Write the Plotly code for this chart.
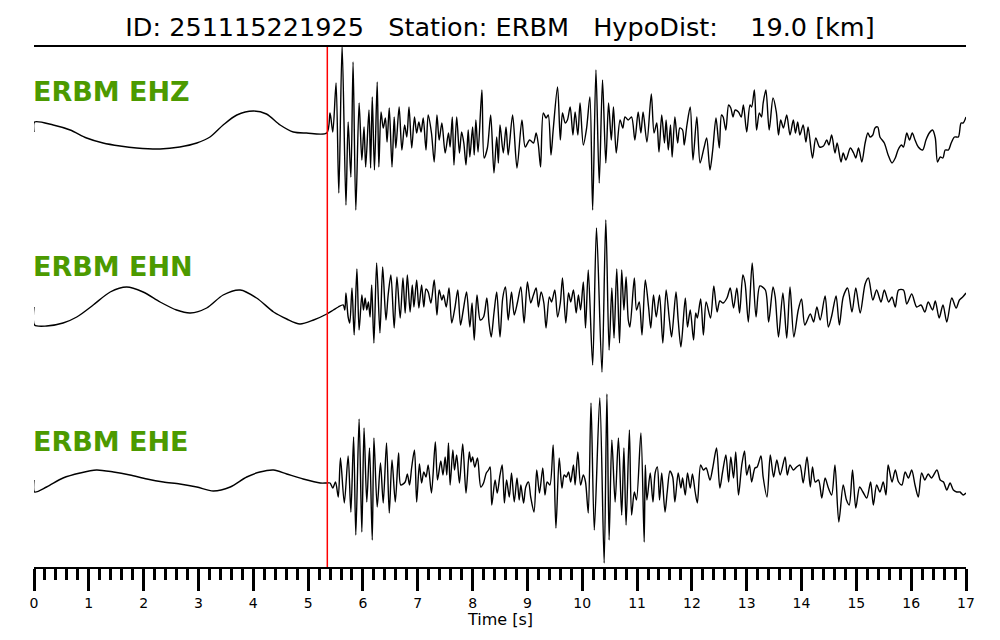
import plotly.graph_objects as go

# ================================ Datos ================================
event_id = "251115221925"
station = "ERBM"
hypo_dist_km = 19.0
p_pick_s = 5.35

channels = ["EHZ", "EHN", "EHE"]

ehz_t = [0.00, 0.01, 0.35, 0.66, 0.96, 1.26, 1.57, 1.87, 2.30, 2.66, 2.97, 3.21, 3.45, 3.70, 4.00, 4.24, 4.49, 4.73, 4.97, 5.34,
         5.40, 5.45, 5.51, 5.56, 5.62, 5.69, 5.73, 5.78, 5.82, 5.87, 5.93, 5.98, 6.02, 6.05, 6.11, 6.14, 6.17, 6.21, 6.26, 6.29,
         6.33, 6.37, 6.41, 6.44, 6.48, 6.53, 6.57, 6.60, 6.66, 6.71, 6.76, 6.80, 6.84, 6.89, 6.94, 6.98, 7.02, 7.06, 7.10, 7.15,
         7.19, 7.25, 7.30, 7.35, 7.39, 7.44, 7.50, 7.56, 7.59, 7.63, 7.66, 7.71, 7.76, 7.80, 7.84, 7.88, 7.92, 7.95, 8.00, 8.03,
         8.06, 8.10, 8.17, 8.21, 8.27, 8.33, 8.39, 8.44, 8.47, 8.50, 8.56, 8.61, 8.65, 8.73, 8.81, 8.90, 8.96, 9.04, 9.11, 9.16,
         9.20, 9.24, 9.29, 9.34, 9.38, 9.43, 9.47, 9.55, 9.60, 9.64, 9.69, 9.73, 9.78, 9.83, 9.87, 9.92, 9.96, 10.02, 10.08, 10.14,
         10.19, 10.25, 10.31, 10.37, 10.43, 10.48, 10.53, 10.57, 10.62, 10.69, 10.74, 10.78, 10.84, 10.90, 10.96, 11.02, 11.07, 11.11, 11.18, 11.26,
         11.31, 11.36, 11.40, 11.45, 11.50, 11.53, 11.57, 11.61, 11.64, 11.69, 11.74, 11.78, 11.83, 11.86, 11.91, 11.97, 12.02, 12.09, 12.15, 12.22,
         12.27, 12.33, 12.38, 12.44, 12.50, 12.54, 12.57, 12.62, 12.67, 12.71, 12.75, 12.79, 12.85, 12.90, 12.94, 13.00, 13.06, 13.09, 13.14, 13.18,
         13.23, 13.27, 13.30, 13.35, 13.41, 13.48, 13.54, 13.58, 13.62, 13.67, 13.73, 13.79, 13.85, 13.89, 13.93, 13.97, 14.03, 14.08, 14.12, 14.20,
         14.26, 14.33, 14.40, 14.46, 14.50, 14.55, 14.61, 14.65, 14.72, 14.76, 14.81, 14.89, 14.95, 14.99, 15.04, 15.10, 15.16, 15.21, 15.25, 15.30,
         15.34, 15.39, 15.43, 15.51, 15.58, 15.65, 15.71, 15.76, 15.82, 15.86, 15.92, 15.97, 16.02, 16.07, 16.13, 16.21, 16.27, 16.33, 16.39, 16.44,
         16.48, 16.53, 16.58, 16.62, 16.68, 16.73, 16.79, 16.86, 16.91, 16.95, 17.00]
ehz_amp = [-2, 8, 5, 0, -8, -13, -16, -18, -19, -17, -13, -7, 5, 15, 19, 16, 5, -2, -3, -3,
           17, -2, 47, -63, 85, -75, 8, -47, 68, -80, 27, -30, 3, -37, 20, -38, 33, -40, 48, -37,
           18, 2, 12, -12, 22, -37, 13, -18, 23, -20, 5, -7, 23, -18, 13, -3, 8, -2, 12, -20,
           15, -3, -32, 15, -10, 7, -23, -3, -17, 13, -35, 13, -23, -2, -13, -35, 0, -27, 3, -25,
           10, -22, 40, -28, -18, 15, -43, -7, -33, 5, -23, 3, -25, 15, -38, 10, -17, -10, -13, -3,
           -15, -37, 17, 12, 15, -25, 0, 43, -10, 17, 7, 10, 23, -5, 18, -5, 27, -15, 2, 33,
           -80, 60, -53, 50, -33, 27, -10, 23, -23, 10, 2, 13, 10, 13, -10, 18, -3, 18, -12, 36,
           -3, 7, -22, 15, -13, 10, -20, 5, -27, 13, -13, 2, 0, -15, 5, 23, -30, 13, -33, -18,
           -8, -40, -20, 12, -18, 15, 13, 0, 25, 22, 13, 20, 18, 13, 25, -2, 25, 23, 40, 0,
           17, 13, 27, 40, 0, 32, 18, -5, 10, 2, 15, -5, 10, -3, 8, -5, 5, -12, 3, -28,
           -8, -17, -16, -10, -15, -5, -23, -13, -32, -23, -30, -18, -23, -28, -18, -32, -13, -3, -7, -5,
           2, 3, -7, -13, -25, -33, -28, -20, -15, -17, -3, -10, -3, -10, -17, -20, -10, -3, 0, -8,
           -32, -27, -28, -20, -20, -13, -7, -7, 7, 7, 13]

ehn_t = [0.00, 0.01, 0.23, 0.53, 0.78, 1.08, 1.39, 1.69, 1.99, 2.30, 2.60, 2.85, 3.15, 3.45, 3.76, 4.06, 4.37, 4.61, 4.85, 5.10,
         5.34, 5.46, 5.55, 5.64, 5.67, 5.69, 5.73, 5.76, 5.80, 5.84, 5.89, 5.93, 5.98, 6.01, 6.04, 6.07, 6.10, 6.13, 6.16, 6.20,
         6.25, 6.31, 6.36, 6.42, 6.46, 6.51, 6.57, 6.62, 6.68, 6.73, 6.77, 6.81, 6.86, 6.90, 6.93, 6.98, 7.02, 7.07, 7.11, 7.15,
         7.19, 7.24, 7.30, 7.35, 7.39, 7.44, 7.47, 7.52, 7.57, 7.62, 7.68, 7.73, 7.78, 7.83, 7.89, 7.95, 7.99, 8.03, 8.08, 8.14,
         8.20, 8.26, 8.30, 8.34, 8.39, 8.44, 8.50, 8.55, 8.60, 8.65, 8.71, 8.76, 8.82, 8.88, 8.94, 9.00, 9.06, 9.11, 9.16, 9.20,
         9.25, 9.30, 9.34, 9.40, 9.44, 9.50, 9.55, 9.60, 9.64, 9.70, 9.75, 9.79, 9.84, 9.89, 9.93, 9.97, 10.02, 10.06, 10.11, 10.19,
         10.26, 10.36, 10.43, 10.49, 10.54, 10.58, 10.63, 10.68, 10.72, 10.76, 10.80, 10.84, 10.87, 10.95, 10.99, 11.04, 11.09, 11.15, 11.21, 11.25,
         11.30, 11.35, 11.41, 11.47, 11.53, 11.59, 11.63, 11.71, 11.75, 11.80, 11.88, 11.92, 11.97, 12.03, 12.07, 12.10, 12.16, 12.21, 12.26, 12.34,
         12.40, 12.46, 12.51, 12.57, 12.64, 12.70, 12.76, 12.82, 12.87, 12.93, 12.97, 13.03, 13.10, 13.17, 13.24, 13.34, 13.40, 13.48, 13.52, 13.58,
         13.66, 13.73, 13.79, 13.86, 13.94, 14.00, 14.06, 14.16, 14.22, 14.28, 14.34, 14.43, 14.49, 14.55, 14.63, 14.69, 14.76, 14.84, 14.92, 14.99,
         15.07, 15.16, 15.22, 15.30, 15.37, 15.45, 15.51, 15.59, 15.65, 15.71, 15.77, 15.86, 15.92, 16.01, 16.10, 16.18, 16.25, 16.31, 16.39, 16.44,
         16.51, 16.58, 16.65, 16.74, 16.82, 16.88, 16.94, 17.00]
ehn_amp = [-2, -20, -21, -18, -12, 0, 13, 18, 13, 3, -5, -8, -3, 10, 15, 7, -7, -14, -19, -15,
           -9, -5, -2, 0, -5, 12, -12, -18, 17, -30, 36, -25, 10, -5, 7, -5, 3, -12, 20, -38,
           42, -28, 38, -15, 10, 30, -23, 28, -13, 27, -8, 30, -7, 20, -2, 25, -3, 20, -2, 16,
           13, 2, 25, -10, 15, 5, 10, -2, 17, -18, -2, 15, -20, -5, 13, -22, 2, -35, 10, -15,
           -12, 7, -18, -32, -8, 13, -32, 7, 18, -15, 13, -10, 3, 18, -18, 23, 2, 10, 17, -2,
           13, 2, -23, 8, 3, 15, -12, 2, 27, -18, 12, 3, 15, -8, 10, -5, 23, -23, 35, -60,
           77, -67, 85, -45, 17, -33, 36, -38, 35, -5, 28, -15, -22, 27, -5, 3, -30, 25, -2, -23,
           10, -12, 10, -38, 15, -15, -32, 13, -15, -42, 7, -22, -5, -35, -8, -13, 6, -30, 3, -13,
           19, -7, 4, 2, 7, 17, -3, 17, -8, 30, 22, -17, 42, -12, 19, 15, -17, 18, 8, -32,
           12, -33, 18, -32, -5, 6, -20, -9, -17, -2, -15, 9, -22, -11, 9, -20, 8, 17, -7, 17,
           -8, 21, 27, 5, 15, 3, 15, 3, 8, -2, 15, 15, 1, 11, -2, 0, -7, 3, -5, 4,
           -13, 0, -17, 7, -3, 5, 8, 12]

ehe_t = [0.00, 0.01, 0.23, 0.53, 0.84, 1.14, 1.45, 1.75, 2.06, 2.36, 2.66, 2.97, 3.27, 3.58, 3.88, 4.12, 4.37, 4.61, 4.91, 5.22,
         5.34, 5.40, 5.45, 5.50, 5.55, 5.59, 5.66, 5.73, 5.78, 5.83, 5.87, 5.93, 5.98, 6.02, 6.07, 6.12, 6.17, 6.20, 6.26, 6.32,
         6.37, 6.43, 6.48, 6.53, 6.59, 6.65, 6.69, 6.77, 6.81, 6.85, 6.89, 6.94, 6.98, 7.03, 7.07, 7.11, 7.15, 7.19, 7.25, 7.32,
         7.36, 7.42, 7.46, 7.50, 7.53, 7.56, 7.59, 7.64, 7.67, 7.71, 7.76, 7.82, 7.88, 7.94, 7.97, 8.00, 8.04, 8.09, 8.15, 8.20,
         8.25, 8.29, 8.32, 8.35, 8.41, 8.45, 8.50, 8.54, 8.58, 8.62, 8.67, 8.71, 8.76, 8.81, 8.85, 8.88, 8.93, 8.97, 9.02, 9.06,
         9.12, 9.17, 9.22, 9.28, 9.32, 9.36, 9.41, 9.47, 9.52, 9.58, 9.63, 9.67, 9.71, 9.75, 9.79, 9.84, 9.87, 9.92, 9.97, 10.02,
         10.06, 10.11, 10.16, 10.22, 10.32, 10.40, 10.45, 10.49, 10.54, 10.60, 10.66, 10.72, 10.76, 10.80, 10.86, 10.90, 10.95, 10.99, 11.07, 11.13,
         11.15, 11.18, 11.24, 11.29, 11.33, 11.37, 11.41, 11.45, 11.51, 11.55, 11.60, 11.65, 11.69, 11.75, 11.80, 11.83, 11.88, 11.92, 11.97, 12.01,
         12.06, 12.10, 12.16, 12.21, 12.26, 12.33, 12.38, 12.45, 12.51, 12.56, 12.62, 12.67, 12.71, 12.76, 12.80, 12.85, 12.91, 12.96, 13.00, 13.05,
         13.09, 13.15, 13.19, 13.26, 13.30, 13.37, 13.43, 13.49, 13.55, 13.61, 13.70, 13.74, 13.79, 13.85, 13.91, 13.97, 14.03, 14.10, 14.16, 14.20,
         14.25, 14.31, 14.37, 14.43, 14.49, 14.55, 14.61, 14.68, 14.76, 14.82, 14.87, 14.93, 14.99, 15.06, 15.12, 15.19, 15.26, 15.31, 15.37, 15.43,
         15.49, 15.54, 15.58, 15.65, 15.71, 15.77, 15.83, 15.89, 15.95, 16.01, 16.07, 16.13, 16.19, 16.25, 16.31, 16.37, 16.47, 16.53, 16.59, 16.65,
         16.71, 16.77, 16.83, 16.89, 16.95, 17.00]
ehe_amp = [0, -12, -7, 2, 7, 10, 8, 5, 1, -2, -4, -7, -11, -7, 3, 8, 10, 6, 1, -3,
           -3, -3, -8, -2, -17, 22, -23, 24, -32, 43, -55, 61, -52, 52, -22, 32, -60, 42, -27, 17,
           -23, 37, -33, 20, -22, 27, -5, -2, 6, -5, 13, 30, -22, 16, -3, 8, 3, 15, -13, 38,
           0, 19, 5, 23, 5, 37, -5, 30, 10, 25, -3, 36, -13, 28, 18, 23, 13, 22, -7, -3,
           7, 10, 13, -25, 0, -13, 5, 15, -23, 0, -17, 7, -22, 2, -20, -5, -23, -7, -2, -17,
           -32, 10, -13, 12, -15, -2, -5, 35, -48, 22, -8, 5, 3, 8, -2, 15, -5, 28, -5, 5,
           -2, -33, 77, -50, 82, -83, 86, -60, 40, -22, 42, -35, 32, -45, 50, -35, -12, -20, 47, -62,
           15, -20, 7, -22, 7, 13, -20, 7, -32, -12, 9, 3, -22, 7, -8, 2, -15, 7, -8, 6,
           -12, -23, 15, 10, 12, 0, 12, 32, -8, 8, 25, -2, 23, 2, 28, -15, 15, 29, 5, 15,
           -2, 12, 13, 24, 3, -17, 25, 3, 20, 5, 23, 5, 15, 10, 13, 15, -3, 23, -7, 13,
           -2, 0, -18, 2, -8, -15, 15, -42, -5, -20, -25, 10, -28, -7, -12, -18, -2, -25, -5, -12,
           -2, -15, 15, -2, 10, -2, -5, 8, 2, 10, -5, -17, 7, 0, 6, 2, 10, 0, -2, -10,
           -3, -10, -12, -12, -15, -13]

traces_t = [ehz_t, ehn_t, ehe_t]
traces_amp = [ehz_amp, ehn_amp, ehe_amp]

# ================================ Figura ================================
FONT = "DejaVu Sans"
offsets = [0, -175, -350]

fig = go.Figure()
for t, amp, off in zip(traces_t, traces_amp, offsets):
    fig.add_trace(go.Scatter(x=t, y=[a + off for a in amp], mode="lines",
                             line=dict(color="black", width=1.4, shape="spline", smoothing=0.8),
                             showlegend=False, hoverinfo="skip"))

for ch, off in zip(channels, offsets):
    fig.add_annotation(x=0, xref="paper", xanchor="left", xshift=-3, y=off + 39, yref="y", yanchor="middle",
                       text=f"<b>{station} {ch}</b>", showarrow=False,
                       font=dict(family=FONT, size=27, color="#4c9a00"))

# pick P
fig.add_shape(type="line", x0=p_pick_s, x1=p_pick_s, xref="x", y0=0, y1=1, yref="paper",
              line=dict(color="red", width=1.5))
# linea superior
fig.add_shape(type="line", x0=0, x1=1, xref="paper", y0=1, y1=1, yref="paper",
              line=dict(color="black", width=2))

sp = "\u00a0"
title = f"ID: {event_id}{sp*3}Station: {station}{sp*3}HypoDist:{sp*4}{hypo_dist_km:.1f} [km]"

fig.add_annotation(x=0.5, xref="paper", xanchor="center", y=-0.101, yref="paper", yanchor="middle",
                   text="Time [s]", showarrow=False, font=dict(family=FONT, size=16, color="black"))

# la pagina tiene 8 px de margen en el body: se compensa en los margenes
fig.update_layout(
    width=1000, height=640,
    margin=dict(l=26, r=42, t=38, b=81),
    paper_bgcolor="white", plot_bgcolor="white",
    title=dict(text=title, x=(500 - 8) / 1000, xanchor="center", y=1 - 19 / 640, yanchor="middle",
               font=dict(family=FONT, size=25.5, color="black")),
    xaxis=dict(range=[0, 17], tickmode="linear", tick0=0, dtick=1,
               ticks="outside", ticklen=22, tickwidth=3, tickcolor="black",
               showline=True, linecolor="black", linewidth=2, showgrid=False, zeroline=False,
               tickfont=dict(family=FONT, size=14, color="black"),
               minor=dict(dtick=0.2, ticks="outside", ticklen=11, tickwidth=3, tickcolor="black", showgrid=False)),
    yaxis=dict(range=[-437, 84], visible=False, showgrid=False, zeroline=False),
    font=dict(family=FONT),
)

fig.write_html("out.html")
